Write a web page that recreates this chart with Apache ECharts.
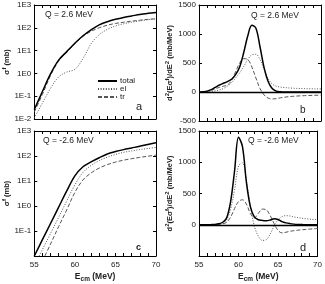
<!DOCTYPE html>
<html><head><meta charset="utf-8">
<script src="https://cdn.jsdelivr.net/npm/echarts@6/dist/echarts.min.js"></script>
<style>html,body{margin:0;padding:0;background:#fff}#c{width:325px;height:284px}</style>
</head><body><div id="c"></div>
<script>
// ---- data ----
const E_int = [55,56,57,58,59,60,61,62,63,64,65,66,67,68,69,70];
const a_total = [0.026,0.16,0.95,3.8,9,21,45,82,135,185,235,285,330,385,430,470];
const a_el    = [0.011,0.05,0.22,0.7,1.15,1.5,4.5,20,50,85,120,150,175,200,225,245];
const a_tr    = [0.02,0.12,0.8,3.5,8.5,20,42,70,100,130,155,175,195,215,235,250];

const c_total_E = [55,56,57,58,59,60,61,62,63,64,65,66,67,68,69,70];
const c_total = [0.01,0.045,0.2,0.9,4,16,37,58,85,120,150,180,210,245,290,340];
const c_el_E = [55.6,56,57,58,59,60,61,62,63,64,65,66,67,68,69,70];
const c_el   = [0.01,0.018,0.08,0.35,1.6,7,22,42,65,90,115,140,160,180,200,220];
const c_tr_E = [56.3,57,58,59,60,61,62,63,64,65,66,67,68,69,70];
const c_tr   = [0.01,0.03,0.15,0.7,3.5,11,21,33,45,57,68,78,88,98,108];

const E_half = [55,55.5,56,56.5,57,57.5,58,58.5,59,59.5,60,60.5,61,61.5,62,62.5,63,63.5,64,64.5,65,65.5,66,66.5,67,67.5,68,68.5,69,69.5,70];
const b_total = [0,5,15,40,80,120,150,180,220,300,430,680,970,1150,1100,780,420,180,60,15,3,0,0,0,0,0,0,0,0,0,0];
const b_el    = [0,2,5,12,20,35,60,100,160,240,330,440,560,640,650,560,390,230,140,100,85,78,70,66,62,60,58,56,55,53,52];
const b_tr    = [0,4,10,30,55,80,100,120,200,350,500,575,560,430,240,60,-50,-105,-120,-115,-100,-90,-80,-75,-70,-66,-63,-60,-58,-56,-55];

const d_total = [0,0,0,2,5,15,40,110,370,860,1400,1250,680,290,125,80,70,65,75,95,85,50,30,18,10,5,3,1,0,0,0];
const d_el    = [0,0,0,1,3,10,30,80,250,560,940,990,700,300,-20,-180,-250,-240,-150,-20,80,130,145,140,125,115,105,97,90,85,80];
const d_tr    = [0,0,0,1,2,8,15,40,120,260,370,400,330,180,110,180,250,240,150,20,-90,-130,-120,-105,-95,-87,-80,-75,-70,-65,-60];

const xTicks = [55,60,65,70];
const logLabels = ['1E-2','1E-1','1E0','1E1','1E2','1E3'];
const linTicks = [-500,0,500,1000,1500];
const names = ['total','el','tr'];
// ---- chart ----
const pair = (xs, ys) => xs.map((x,i)=>[x, ys[i]]);
const FONT = 'Liberation Sans, Arial, sans-serif';
const grids = [
  {left:32, top:5, width:124, height:114},
  {left:199, top:5, width:122, height:116},
  {left:32, top:131, width:124, height:128},
  {left:199, top:131, width:119, height:128}
];
const xAxes = [], yAxes = [];
const tickStyle = {show:true, inside:true, length:3, lineStyle:{color:'#000', width:1}};
for (let g=0; g<4; g++){
  const bottomRow = g>=2;
  xAxes.push({type:'value', gridIndex:g, min:55, max:70, interval:1, position:'bottom',
    axisLine:{show:true, onZero:false, lineStyle:{color:'#000', width:1}},
    axisTick:tickStyle, splitLine:{show:false},
    axisLabel:{show:bottomRow, fontSize:8, color:'#222', fontFamily:FONT, margin:5,
      formatter: v => xTicks.includes(v) ? String(v) : ''},
    name: bottomRow ? '{a|E}{s|cm}{a| (MeV)}' : '', nameLocation:'middle', nameGap:15,
    nameTextStyle:{rich:{a:{fontSize:8.5, fontWeight:'bold', fontFamily:FONT, color:'#222'},
                         s:{fontSize:6.5, fontWeight:'bold', fontFamily:FONT, color:'#222', padding:[5,0,0,0]}}}
  });
  xAxes.push({type:'value', gridIndex:g, min:55, max:70, interval:1, position:'top',
    axisLine:{show:true, onZero:false, lineStyle:{color:'#000', width:1}},
    axisTick:tickStyle, axisLabel:{show:false}, splitLine:{show:false}});
  const isLog = (g===0 || g===2);
  const yBase = isLog ? {type:'log', logBase:10, min:0.01, max:1000} : {type:'value', min:-500, max:1500, interval:500};
  const hideBottom = (g===2 || g===3);
  yAxes.push(Object.assign({}, yBase, {gridIndex:g, position:'left',
    axisLine:{show:true, onZero:false, lineStyle:{color:'#000', width:1}},
    axisTick:tickStyle, splitLine:{show:false},
    axisLabel:{fontSize:8, color:'#222', fontFamily:FONT, margin:3,
      formatter: v => {
        if (isLog){ const k = Math.round(Math.log10(v)); if (hideBottom && k===-2) return ''; return logLabels[k+2]; }
        if (hideBottom && v===-500) return ''; return linTicks.includes(v) ? String(v) : '';
      }},
    name: isLog ? '{a|σ}{s|f}{a| (mb)}' : '{a|d}{s|2}{a|(Eσ}{s|f}{a|)/dE}{s|2}{a| (mb/MeV)}',
    nameLocation:'middle', nameRotate:90, nameGap: isLog ? 19 : 22,
    nameTextStyle:{rich:{a:{fontSize:7.5, fontWeight:'bold', fontFamily:FONT, color:'#222'},
                         s:{fontSize:6, fontWeight:'bold', fontFamily:FONT, color:'#222', padding:[0,0,5,0]}}}
  }));
  yAxes.push(Object.assign({}, yBase, {gridIndex:g, position:'right',
    axisLine:{show:true, onZero:false, lineStyle:{color:'#000', width:1}},
    axisTick:tickStyle, axisLabel:{show:false}, splitLine:{show:false}}));
}
const styles = {
  total:{color:'#000', width:1.5, type:'solid'},
  el:{color:'#555', width:1, type:[1,1.6]},
  tr:{color:'#555', width:1, type:[4,2]}
};
const series = [];
function add(g, name, data){
  series.push({type:'line', name, xAxisIndex:2*g, yAxisIndex:2*g, data, showSymbol:false, symbol:'none',
    smooth:0.35, lineStyle:styles[name], itemStyle:{color:styles[name].color}, animation:false, z: name==='total'?3:2});
}
add(0,'total',pair(E_int,a_total)); add(0,'el',pair(E_int,a_el)); add(0,'tr',pair(E_int,a_tr));
add(1,'total',pair(E_half,b_total)); add(1,'el',pair(E_half,b_el)); add(1,'tr',pair(E_half,b_tr));
add(2,'total',pair(c_total_E,c_total)); add(2,'el',pair(c_el_E,c_el)); add(2,'tr',pair(c_tr_E,c_tr));
add(3,'total',pair(E_half,d_total)); add(3,'el',pair(E_half,d_el)); add(3,'tr',pair(E_half,d_tr));
// zero lines
[1,3].forEach(g=>{
  series.push({type:'line', name:'zero'+g, xAxisIndex:2*g, yAxisIndex:2*g, data:[], silent:true,
    markLine:{silent:true, symbol:['none','none'], label:{show:false}, animation:false,
      lineStyle:{color:'#000', width:1.3, type:'solid'}, data:[{yAxis:0}]}});
});
const txt = (x,y,s,size,bold)=>({type:'text', left:x, top:y, silent:true,
  style:{text:s, fontSize:size, fontFamily:FONT, fill:'#222', fontWeight: bold?'bold':'normal'}});
const chart = echarts.init(document.getElementById('c'), null, {renderer:'canvas'});
chart.setOption({
  animation:false,
  tooltip:{show:false},
  grid:grids.map(g=>Object.assign({containLabel:false, show:false}, g)),
  xAxis:xAxes, yAxis:yAxes, series,
  legend:{show:true, data:names, left:97, top:77, orient:'vertical', itemWidth:19, itemHeight:6, itemGap:0,
    padding:0, selectedMode:false, itemStyle:{opacity:0, borderWidth:0},
    textStyle:{fontSize:8, fontFamily:FONT, color:'#222', padding:[0,0,0,-2]}},
  graphic:[
    txt(45,10,'Q = 2.6 MeV',8.5), txt(251,11,'Q = 2.6 MeV',8.5),
    txt(43,136,'Q = -2.6 MeV',8.5), txt(248,136,'Q = -2.6 MeV',8.5),
    txt(136,101,'a',11), txt(300,105,'b',10), txt(136,243,'c',9,true), txt(300,242,'d',11)
  ]
});
</script></body></html>
